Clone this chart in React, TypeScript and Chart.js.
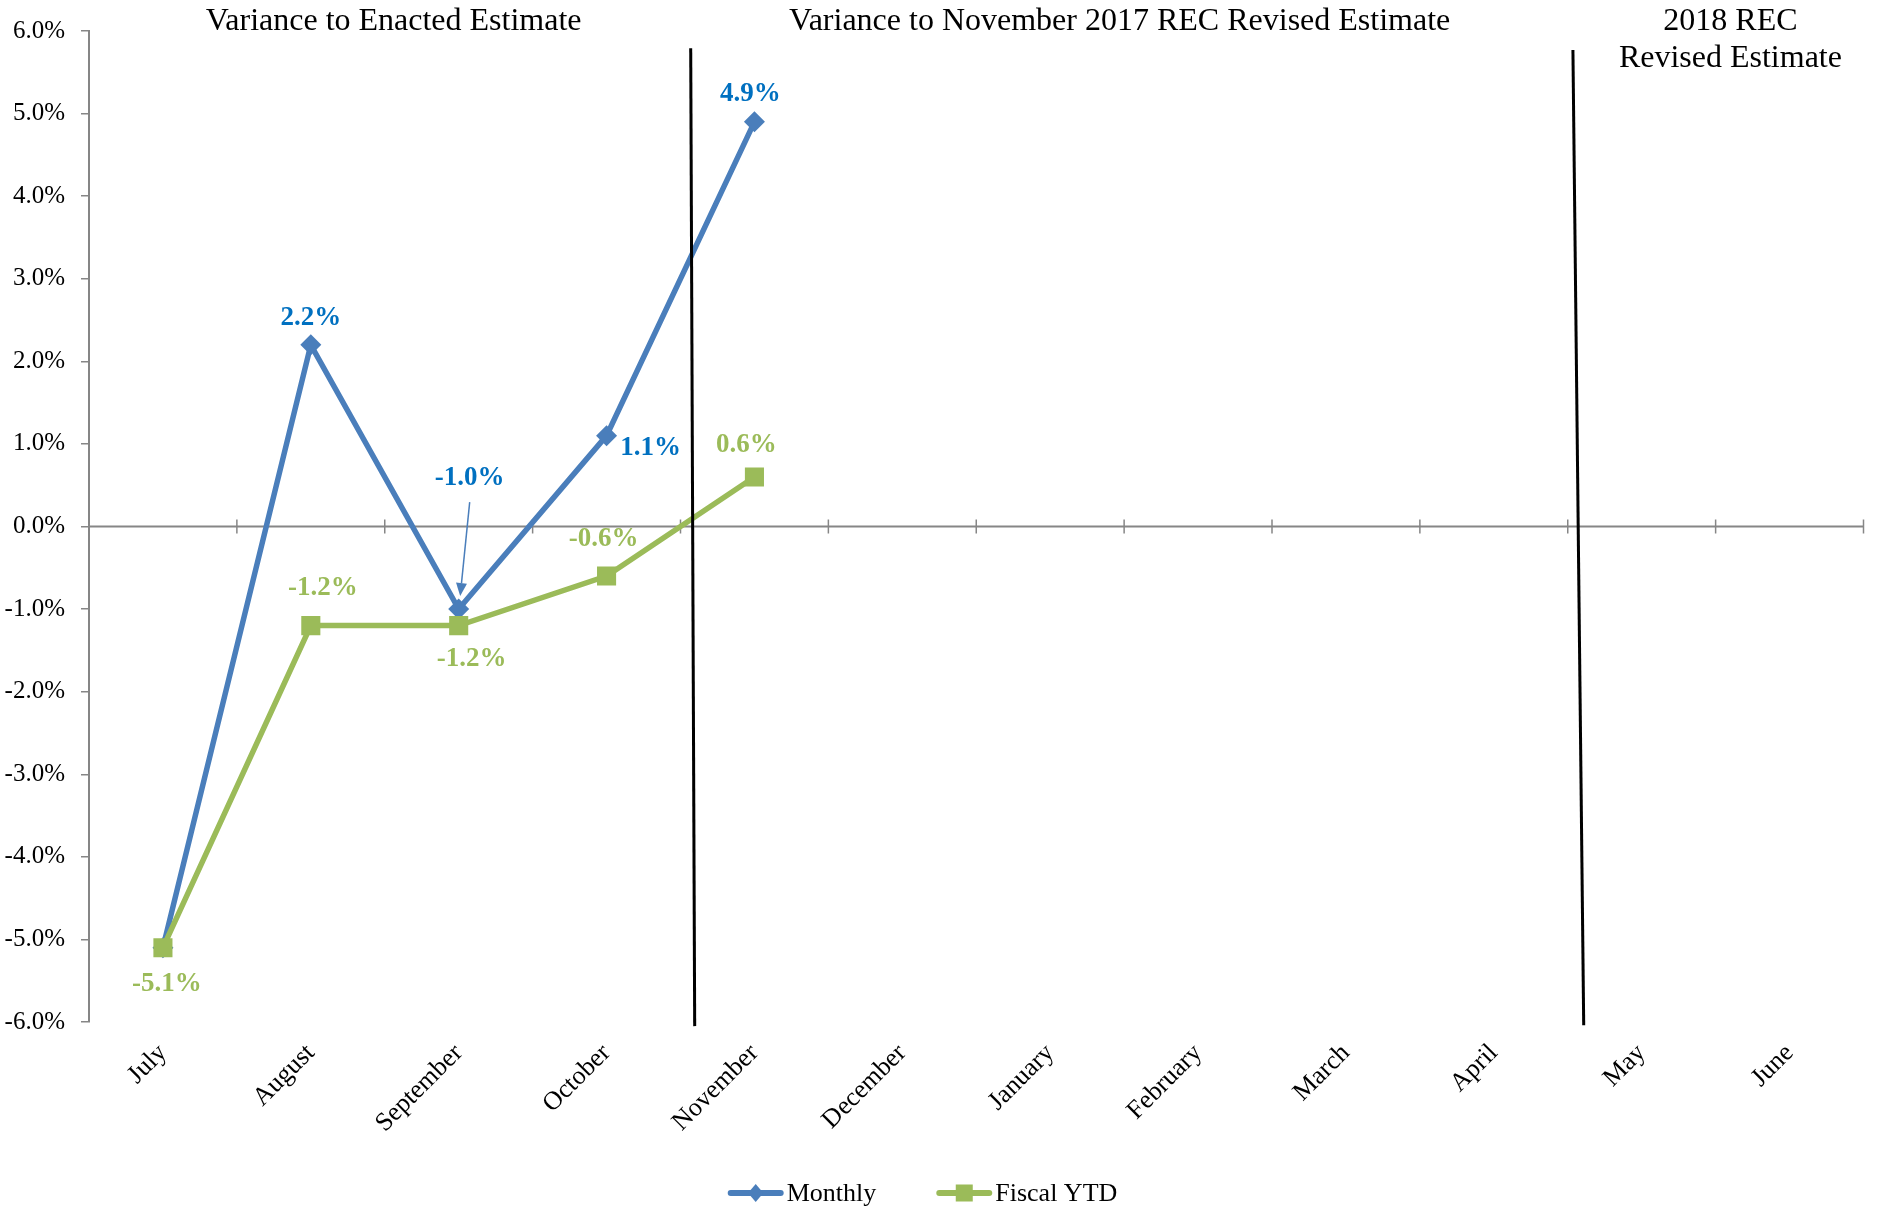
import React, { useEffect, useRef } from 'react';
import { Chart, registerables } from 'chart.js';

Chart.register(...registerables);

// ---------- data ----------
const categories = ['July', 'August', 'September', 'October', 'November', 'December', 'January', 'February', 'March', 'April', 'May', 'June'];
const monthly = [-5.1, 2.2, -1.0, 1.1, 4.9, null, null, null, null, null, null, null];
const fiscalYTD = [-5.1, -1.2, -1.2, -0.6, 0.6, null, null, null, null, null, null, null];
const seriesNames = ['Monthly', 'Fiscal YTD'];
const yMin = -6;
const yMax = 6;
const yStep = 1;
const sectionTitles = [
  { lines: ['Variance to Enacted Estimate'], at: 1.56 },
  { lines: ['Variance to November 2017 REC Revised Estimate'], at: 6.47 },
  { lines: ['2018 REC', 'Revised Estimate'], at: 10.6 },
];

// ---------- annotation placement (styling) ----------
const monthlyLabelShown = [false, true, true, true, true];
const monthlyLabelOffsets = [[0, 0], [0, -27], [11, -131], [44, 12], [-4, -28]];
const fiscalLabelOffsets = [[4, 36], [12, -38], [13, 33], [-3, -37], [-8, -32]];
// dividers in (category index, value) units: [xTop, yTop, xBottom, yBottom]
const dividers = [
  [3.569, 5.79, 3.596, -6.05],
  [9.535, 5.77, 9.608, -6.04],
];

const FONT = "'Liberation Serif', 'Times New Roman', Times, serif";
const BLUE = '#4A7EBB';
const BLUE_TEXT = '#0070C0';
const GREEN = '#9BBB59';
const AXIS = '#868686';

function drawDiamond(ctx: CanvasRenderingContext2D, x: number, y: number, r: number, color: string) {
  ctx.fillStyle = color;
  ctx.beginPath();
  ctx.moveTo(x, y - r);
  ctx.lineTo(x + r * 0.85, y);
  ctx.lineTo(x, y + r);
  ctx.lineTo(x - r * 0.85, y);
  ctx.closePath();
  ctx.fill();
}

const overlayPlugin = {
  id: 'overlay',
  beforeDatasetsDraw(chart: any) {
    const { ctx, chartArea, scales } = chart;
    const x = scales.x;
    const y = scales.y;
    const y0 = y.getPixelForValue(0);
    ctx.save();
    ctx.strokeStyle = AXIS;
    ctx.lineWidth = 2;
    ctx.beginPath();
    ctx.moveTo(chartArea.left, y0);
    ctx.lineTo(chartArea.right, y0);
    ctx.stroke();
    ctx.lineWidth = 1.5;
    for (let i = 1; i <= categories.length; i++) {
      const px = x.getPixelForValue(i - 0.5);
      ctx.beginPath();
      ctx.moveTo(px, y0 - 7);
      ctx.lineTo(px, y0 + 7);
      ctx.stroke();
    }
    ctx.restore();
  },
  afterDatasetsDraw(chart: any) {
    const { ctx, scales } = chart;
    const x = scales.x;
    const y = scales.y;
    ctx.save();
    // dividers
    ctx.strokeStyle = '#000000';
    ctx.lineWidth = 3;
    dividers.forEach(([xt, yt, xb, yb]) => {
      ctx.beginPath();
      ctx.moveTo(x.getPixelForValue(xt), y.getPixelForValue(yt));
      ctx.lineTo(x.getPixelForValue(xb), y.getPixelForValue(yb));
      ctx.stroke();
    });
    // data labels
    ctx.font = `bold 27px ${FONT}`;
    ctx.textAlign = 'center';
    ctx.textBaseline = 'middle';
    const m0 = chart.getDatasetMeta(0);
    const m1 = chart.getDatasetMeta(1);
    monthly.forEach((v, i) => {
      if (v === null || !monthlyLabelShown[i]) return;
      const p = m0.data[i];
      const [dx, dy] = monthlyLabelOffsets[i];
      ctx.fillStyle = BLUE_TEXT;
      ctx.fillText(`${v.toFixed(1)}%`, p.x + dx, p.y + dy);
    });
    fiscalYTD.forEach((v, i) => {
      if (v === null) return;
      const p = m1.data[i];
      const [dx, dy] = fiscalLabelOffsets[i];
      ctx.fillStyle = GREEN;
      ctx.fillText(`${v.toFixed(1)}%`, p.x + dx, p.y + dy);
    });
    // arrow for September monthly label
    const ps = m0.data[2];
    const sx = ps.x + 11, sy = ps.y - 107;
    const ex = ps.x + 1.5, ey = ps.y - 13;
    ctx.strokeStyle = BLUE;
    ctx.fillStyle = BLUE;
    ctx.lineWidth = 1.5;
    const ang = Math.atan2(ey - sy, ex - sx);
    const hl = 13, hw = 5.5;
    const bx = ex - hl * Math.cos(ang), by = ey - hl * Math.sin(ang);
    ctx.beginPath();
    ctx.moveTo(sx, sy);
    ctx.lineTo(bx, by);
    ctx.stroke();
    ctx.beginPath();
    ctx.moveTo(ex, ey);
    ctx.lineTo(bx + hw * Math.sin(ang), by - hw * Math.cos(ang));
    ctx.lineTo(bx - hw * Math.sin(ang), by + hw * Math.cos(ang));
    ctx.closePath();
    ctx.fill();
    ctx.restore();
  },
  afterDraw(chart: any) {
    const { ctx, scales } = chart;
    const x = scales.x;
    ctx.save();
    // section titles
    ctx.fillStyle = '#000000';
    ctx.font = `32px ${FONT}`;
    ctx.textAlign = 'center';
    ctx.textBaseline = 'alphabetic';
    sectionTitles.forEach((t) => {
      const cx = x.getPixelForValue(t.at);
      t.lines.forEach((line, k) => {
        ctx.fillText(line, cx, 30 + k * 37);
      });
    });
    // legend
    ctx.font = `26px ${FONT}`;
    ctx.textBaseline = 'middle';
    ctx.textAlign = 'left';
    const lineLen = 56, gap = 3, itemGap = 60;
    const widths = seriesNames.map((n) => lineLen + gap + ctx.measureText(n).width);
    const total = widths.reduce((a, b) => a + b, 0) + itemGap * (widths.length - 1);
    let lx = chart.width / 2 - total / 2 - 16;
    const ly = 1193;
    const colors = [BLUE, GREEN];
    seriesNames.forEach((n, i) => {
      ctx.strokeStyle = colors[i];
      ctx.lineWidth = 6;
      ctx.lineCap = 'round';
      ctx.beginPath();
      ctx.moveTo(lx + 3, ly);
      ctx.lineTo(lx + lineLen - 3, ly);
      ctx.stroke();
      if (i === 0) drawDiamond(ctx, lx + lineLen / 2, ly, 9, colors[i]);
      else {
        ctx.fillStyle = colors[i];
        ctx.fillRect(lx + lineLen / 2 - 8.5, ly - 8.5, 17, 17);
      }
      ctx.fillStyle = '#000000';
      ctx.fillText(n, lx + lineLen + gap, ly + 1);
      lx += widths[i] + itemGap;
    });
    ctx.restore();
  },
};

export default function App() {
  const canvasRef = useRef<HTMLCanvasElement | null>(null);

  useEffect(() => {
    const canvas = canvasRef.current;
    if (!canvas) return;
    const chart = new Chart(canvas, {
      type: 'line',
      data: {
        labels: categories,
        datasets: [
          {
            label: seriesNames[0],
            data: monthly,
            borderColor: BLUE,
            backgroundColor: BLUE,
            borderWidth: 5.5,
            pointStyle: 'rectRot',
            pointRadius: 10.5,
            pointHoverRadius: 10.5,
            pointBorderWidth: 0,
            order: 1,
          },
          {
            label: seriesNames[1],
            data: fiscalYTD,
            borderColor: GREEN,
            backgroundColor: GREEN,
            borderWidth: 5.5,
            pointStyle: 'rect',
            pointRadius: 13.5,
            pointHoverRadius: 13.5,
            pointBorderWidth: 0,
            order: 0,
          },
        ],
      },
      options: {
        responsive: false,
        animation: false,
        devicePixelRatio: 1,
        layout: { padding: { left: 0, top: 31, right: 10, bottom: 0 } },
        plugins: {
          legend: { display: false },
          tooltip: { enabled: false },
          title: { display: false },
        },
        scales: {
          x: {
            offset: true,
            grid: { display: false, drawTicks: false },
            border: { display: false },
            ticks: {
              autoSkip: false,
              maxRotation: 45,
              minRotation: 45,
              padding: 16,
              color: '#000000',
              font: { family: FONT, size: 26 },
            },
            afterFit: (s: any) => {
              s.height = 190;
            },
          },
          y: {
            min: yMin,
            max: yMax,
            grid: {
              display: true,
              drawOnChartArea: false,
              drawTicks: true,
              tickLength: 8,
              color: AXIS,
              lineWidth: 1.5,
            },
            border: { display: true, color: AXIS, width: 2 },
            ticks: {
              stepSize: yStep,
              padding: 16,
              color: '#000000',
              font: { family: FONT, size: 25 },
              callback: (v: any) => `${Number(v).toFixed(1)}%`,
            },
            afterFit: (s: any) => {
              s.width = 89;
            },
          },
        },
      },
      plugins: [overlayPlugin],
    });
    return () => chart.destroy();
  }, []);

  return (
    <div style={{ position: 'fixed', left: 0, top: 0, width: 1877, height: 1212, background: '#ffffff' }}>
      <canvas ref={canvasRef} width={1877} height={1212} style={{ width: 1877, height: 1212 }} />
    </div>
  );
}
